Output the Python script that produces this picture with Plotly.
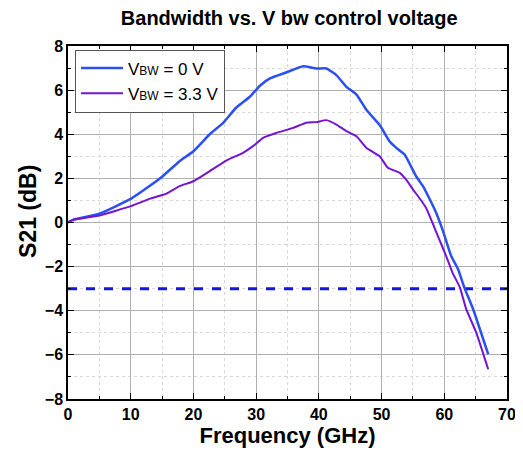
import plotly.graph_objects as go

freq_0v = [0, 0.8, 5, 10, 13, 15.1, 17.8, 20, 22.6, 24.7, 26.8, 29, 30.6, 32.2, 34.8, 37.5,
           39.6, 41.2, 42.8, 44.4, 46, 47.6, 49.7, 51.3, 52.4, 53.7, 55.5, 56.6, 57.7, 58.7,
           59.8, 61.1, 62.2, 63.2, 64.6, 67]
s21_0v = [0, 0.12, 0.4, 1.07, 1.65, 2.1, 2.78, 3.23, 4.0, 4.5, 5.2, 5.7, 6.2, 6.53, 6.8, 7.08,
          6.98, 6.98, 6.68, 6.15, 5.8, 5.1, 4.42, 3.67, 3.37, 3.07, 2.1, 1.65, 1.04, 0.44,
          -0.39, -1.52, -2.12, -2.95, -3.93, -5.97]

freq_33v = [0, 0.8, 5, 10, 13, 15.7, 17.8, 20, 22.6, 25.3, 27.9, 29.5, 31.1, 33.2, 35.9, 38,
            39.6, 41.2, 42.8, 44.4, 46, 47.6, 49.7, 51, 52.9, 53.9, 55, 56, 57.1, 58.1, 59.2,
            60.3, 61.3, 62.5, 63.5, 65.1, 67]
s21_33v = [0, 0.12, 0.32, 0.74, 1.07, 1.31, 1.65, 1.87, 2.33, 2.82, 3.16, 3.46, 3.84, 4.06,
           4.29, 4.52, 4.55, 4.64, 4.44, 4.14, 3.91, 3.38, 3.0, 2.48, 2.25, 1.95, 1.5, 1.12,
           0.66, 0.0, -0.77, -1.52, -2.27, -2.95, -3.93, -4.99, -6.65]

ref_level = -3
x_range = [0, 70]
y_range = [-8, 8]

font_family = "Liberation Sans, Arial, sans-serif"
sub = "<span style='font-size:12px'>BW</span>"

fig = go.Figure()
fig.add_trace(go.Scatter(x=x_range, y=[ref_level, ref_level], mode="lines",
                         line=dict(color="#1414e6", width=3, dash="dash"),
                         showlegend=False, hoverinfo="skip"))
fig.add_trace(go.Scatter(x=freq_0v, y=s21_0v, mode="lines", name="V" + sub + " = 0 V",
                         line=dict(color="#2a50f0", width=2.5, shape="spline", smoothing=0.4)))
fig.add_trace(go.Scatter(x=freq_33v, y=s21_33v, mode="lines", name="V" + sub + " = 3.3 V",
                         line=dict(color="#7414d4", width=2, shape="spline", smoothing=0.4)))

axis_common = dict(
    showline=True, linecolor="black", linewidth=1.5, mirror="ticks",
    ticks="inside", ticklen=6, tickcolor="black", tickwidth=1,
    showgrid=True, gridcolor="#b0b0b0", gridwidth=1,
    zeroline=False, automargin=False,
    tickfont=dict(family=font_family, size=16, color="black", weight="bold"),
)

fig.update_xaxes(range=x_range, dtick=10, tick0=0,
                 minor=dict(dtick=5, ticks="inside", ticklen=3, tickcolor="black",
                            showgrid=True, gridcolor="#d8d8d8", griddash="dot"),
                 title=dict(text="Frequency (GHz)", standoff=6,
                            font=dict(family=font_family, size=22, color="black", weight="bold")),
                 **axis_common)
fig.update_yaxes(range=y_range, dtick=2, tick0=0,
                 minor=dict(dtick=1, ticks="inside", ticklen=3, tickcolor="black",
                            showgrid=True, gridcolor="#d8d8d8", griddash="dot"),
                 **axis_common)

fig.add_annotation(text="S21 (dB)", textangle=-90, xref="paper", yref="paper",
                   x=-0.091, y=0.53, xanchor="center", yanchor="middle", showarrow=False,
                   font=dict(family=font_family, size=23, color="black", weight="bold"))

fig.update_layout(
    width=515, height=448,
    margin=dict(l=60, r=16, t=38, b=57),
    paper_bgcolor="white", plot_bgcolor="white",
    title=dict(text="Bandwidth vs. V bw control voltage", x=0.546, xanchor="center",
               y=0.978, yanchor="middle",
               font=dict(family=font_family, size=20, color="black", weight="bold")),
    legend=dict(x=0.016, y=0.99, xanchor="left", yanchor="top",
                bgcolor="white", bordercolor="#555555", borderwidth=1,
                font=dict(family=font_family, size=17, color="black"),
                tracegroupgap=0, itemwidth=42),
    showlegend=True,
)

fig.write_html("out.html")
